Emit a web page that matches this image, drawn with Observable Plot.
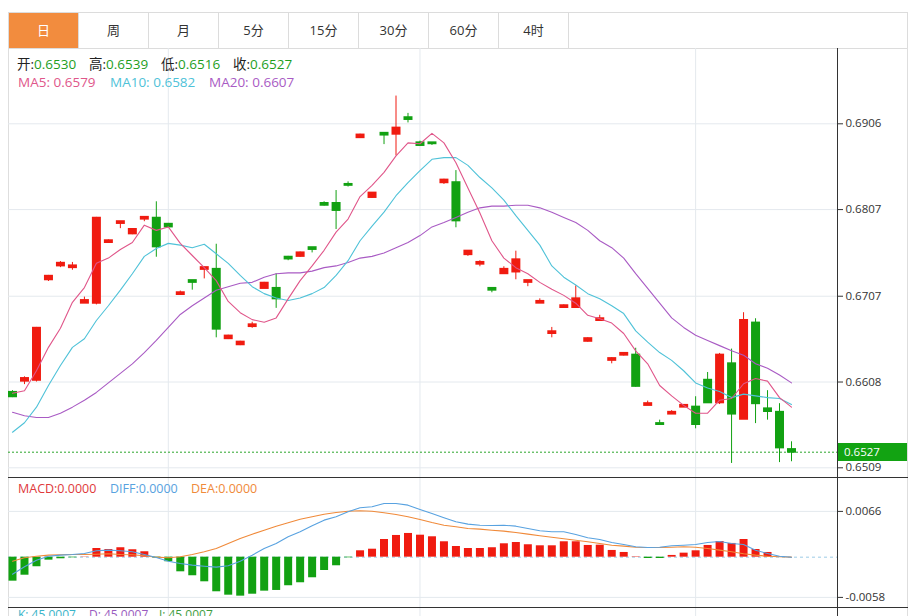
<!DOCTYPE html>
<html lang="zh"><head><meta charset="utf-8">
<script src="https://cdn.jsdelivr.net/npm/d3@7"></script>
<script src="https://cdn.jsdelivr.net/npm/@observablehq/plot@0.6"></script>
<style>
html,body{margin:0;padding:0;background:#fff;}
body{width:919px;height:616px;overflow:hidden;font-family:"Open Sans","Noto Sans CJK SC",sans-serif;color:#333;}
#root{position:relative;width:919px;height:616px;overflow:hidden;}
.a{position:absolute;white-space:nowrap;}
</style></head><body><div id="root"></div><script>
// ---------- data ----------
const tabs = ["日","周","月","5分","15分","30分","60分","4时"];
const opens = [0.6596,0.6609,0.6610,0.6726,0.6742,0.6740,0.6699,0.6699,0.6769,0.6791,
0.6779,0.6796,0.6797,0.6790,0.6709,0.6725,0.6738,0.6738,0.6658,0.6651,
0.6672,0.6716,0.6716,0.6752,0.6753,0.6763,0.6814,0.6814,0.6836,0.6890,
0.6821,0.6895,0.6894,0.6913,0.6884,0.6884,0.6838,0.6838,0.6755,0.6744,
0.6716,0.6733,0.6735,0.6723,0.6699,0.6664,0.6694,0.6694,0.6655,0.6679,
0.6633,0.6639,0.6639,0.6581,0.6560,0.6571,0.6579,0.6579,0.6610,0.6584,
0.6629,0.6565,0.6676,0.6577,0.6573,0.6530];
const closes = [0.6591,0.6612,0.6670,0.6730,0.6745,0.6742,0.6702,0.6797,0.6771,0.6793,
0.6784,0.6798,0.6764,0.6787,0.6711,0.6723,0.6740,0.6669,0.6661,0.6654,
0.6674,0.6722,0.6704,0.6750,0.6757,0.6761,0.6812,0.6806,0.6835,0.6893,
0.6826,0.6893,0.6901,0.6911,0.6881,0.6883,0.6841,0.6794,0.6759,0.6746,
0.6714,0.6738,0.6749,0.6725,0.6701,0.6666,0.6696,0.6704,0.6658,0.6681,
0.6635,0.6641,0.6603,0.6583,0.6559,0.6573,0.6581,0.6559,0.6584,0.6639,
0.6571,0.6679,0.6583,0.6574,0.6532,0.6527];
const highs = [0.6598,0.6614,0.6671,0.6731,0.6747,0.6746,0.6706,0.6798,0.6772,0.6793,
0.6785,0.6799,0.6816,0.6791,0.6713,0.6725,0.6740,0.6767,0.6662,0.6655,
0.6677,0.6723,0.6733,0.6753,0.6758,0.6763,0.6816,0.6829,0.6839,0.6894,
0.6826,0.6895,0.6938,0.6918,0.6886,0.6884,0.6842,0.6852,0.6759,0.6748,
0.6717,0.6741,0.6759,0.6725,0.6704,0.6671,0.6697,0.6719,0.6659,0.6685,
0.6636,0.6642,0.6647,0.6586,0.6564,0.6575,0.6582,0.6591,0.6619,0.6641,
0.6646,0.6688,0.6681,0.6598,0.6583,0.6539];
const lows = [0.6590,0.6605,0.6608,0.6724,0.6740,0.6737,0.6699,0.6697,0.6768,0.6785,
0.6778,0.6793,0.6752,0.6786,0.6708,0.6714,0.6727,0.6659,0.6657,0.6650,
0.6670,0.6716,0.6693,0.6748,0.6752,0.6757,0.6811,0.6784,0.6833,0.6889,
0.6820,0.6882,0.6869,0.6907,0.6880,0.6881,0.6836,0.6786,0.6753,0.6741,
0.6711,0.6733,0.6726,0.6718,0.6699,0.6659,0.6693,0.6694,0.6654,0.6679,
0.6629,0.6638,0.6602,0.6581,0.6558,0.6571,0.6579,0.6554,0.6584,0.6582,
0.6514,0.6565,0.6560,0.6564,0.6515,0.6516];
const ma5 = [0.6595,0.6598,0.6621,0.6648,0.6670,0.6700,0.6717,0.6745,0.6751,0.6761,
0.6769,0.6789,0.6783,0.6787,0.6768,0.6754,0.6740,0.6725,0.6701,0.6688,
0.6680,0.6677,0.6682,0.6704,0.6725,0.6742,0.6760,0.6781,0.6796,0.6822,
0.6835,0.6850,0.6869,0.6884,0.6883,0.6895,0.6884,0.6861,0.6832,0.6803,
0.6771,0.6751,0.6740,0.6733,0.6723,0.6715,0.6708,0.6699,0.6685,0.6681,
0.6676,0.6664,0.6644,0.6629,0.6604,0.6592,0.6581,0.6572,0.6572,0.6587,
0.6589,0.6606,0.6612,0.6609,0.6590,0.6579];
const ma10 = [0.6550,0.6561,0.6579,0.6604,0.6627,0.6648,0.6658,0.6679,0.6696,0.6714,
0.6733,0.6753,0.6762,0.6768,0.6766,0.6763,0.6767,0.6756,0.6745,0.6731,
0.6718,0.6710,0.6705,0.6702,0.6705,0.6710,0.6717,0.6731,0.6748,0.6771,
0.6788,0.6804,0.6823,0.6838,0.6852,0.6865,0.6867,0.6867,0.6858,0.6844,
0.6832,0.6818,0.6800,0.6783,0.6766,0.6742,0.6729,0.6720,0.6710,0.6704,
0.6696,0.6687,0.6667,0.6654,0.6642,0.6633,0.6621,0.6607,0.6601,0.6597,
0.6590,0.6594,0.6592,0.6590,0.6589,0.6582];
const ma20 = [0.6573,0.6569,0.6567,0.6567,0.6572,0.6579,0.6587,0.6596,0.6607,0.6618,
0.6629,0.6642,0.6656,0.6671,0.6686,0.6696,0.6705,0.6714,0.6718,0.6722,
0.6723,0.6729,0.6733,0.6734,0.6734,0.6736,0.6740,0.6742,0.6746,0.6751,
0.6753,0.6757,0.6763,0.6769,0.6777,0.6787,0.6792,0.6798,0.6804,0.6809,
0.6811,0.6811,0.6812,0.6812,0.6809,0.6804,0.6798,0.6792,0.6783,0.6771,
0.6763,0.6751,0.6733,0.6716,0.6699,0.6682,0.6671,0.6662,0.6656,0.6650,
0.6644,0.6639,0.6629,0.6624,0.6616,0.6607];
const macdHist = [-0.00346,-0.00260,-0.00138,-0.00043,-0.00023,-0.00009,0.00004,0.00125,0.00111,0.00136,
0.00107,0.00078,-0.00012,-0.00066,-0.00211,-0.00268,-0.00355,-0.00499,-0.00548,-0.00562,
-0.00534,-0.00490,-0.00480,-0.00412,-0.00369,-0.00297,-0.00192,-0.00124,-0.00009,0.00092,
0.00115,0.00255,0.00313,0.00342,0.00317,0.00294,0.00222,0.00154,0.00125,0.00125,
0.00136,0.00193,0.00212,0.00179,0.00164,0.00164,0.00222,0.00222,0.00169,0.00173,
0.00097,0.00068,0.00006,-0.00019,-0.00019,0.00025,0.00058,0.00092,0.00169,0.00226,
0.00198,0.00255,0.00111,0.00068,0.00003,0];
const diff = [-0.00245,-0.00138,-0.00043,0.00014,0.00029,0.00039,0.00053,0.00092,0.00101,0.00092,
0.00078,0.00039,-0.00004,-0.00058,-0.00091,-0.00115,-0.00130,-0.00144,-0.00124,-0.00058,
0.00029,0.00125,0.00198,0.00294,0.00366,0.00453,0.00534,0.00583,0.00655,0.00712,
0.00727,0.00774,0.00774,0.00750,0.00688,0.00630,0.00568,0.00510,0.00476,0.00461,
0.00457,0.00461,0.00447,0.00414,0.00381,0.00366,0.00366,0.00327,0.00280,0.00255,
0.00212,0.00183,0.00150,0.00140,0.00144,0.00164,0.00173,0.00183,0.00212,0.00226,
0.00198,0.00183,0.00101,0.00053,0.00014,0];
const dea = [-0.00058,-0.00009,0.00014,0.00029,0.00035,0.00039,0.00039,0.00043,0.00049,0.00039,
0.00035,0.00020,0,-0.00009,0.00006,0.00039,0.00078,0.00125,0.00198,0.00270,
0.00332,0.00389,0.00447,0.00496,0.00548,0.00583,0.00620,0.00645,0.00663,0.00669,
0.00663,0.00640,0.00616,0.00583,0.00544,0.00500,0.00461,0.00438,0.00414,0.00404,
0.00389,0.00375,0.00356,0.00332,0.00309,0.00288,0.00265,0.00245,0.00222,0.00198,
0.00173,0.00159,0.00144,0.00140,0.00140,0.00144,0.00150,0.00144,0.00125,0.00101,
0.00078,0.00049,0.00029,0.00014,0.00006,0];
const priceTicks = [0.6906,0.6807,0.6707,0.6608,0.6509];
const macdTicks = [0.0066,-0.0058];
const monthStarts = [13,34,57];
const quoteLabels = ["开","高","低","收"];
const quoteValues = [0.6530,0.6539,0.6516,0.6527];
const maLabels = ["MA5","MA10","MA20"];
const maValues = [0.6579,0.6582,0.6607];
const macdLabels = ["MACD","DIFF","DEA"];
const macdValues = [0.0000,0.0000,0.0000];
const kdjLabels = ["K","D","J"];
const kdjValues = [45.0007,45.0007,45.0007];

// ---------- styling ----------
const UP = "#f01b10", DOWN = "#12a112", GRID = "#e4e9ee";
const MA_COLORS = ["#e0568a","#4fc2d8","#a95bc4"];
const MACD_COLORS = ["#e0393b","#58a2e0","#f08a3a"];
const KDJ_COLORS = ["#3ab4c9","#9a5bc0","#3f9e3f"];
const root = document.getElementById("root");
function add(style, html){const d=document.createElement("div");d.className="a";Object.assign(d.style,style);if(html!==undefined)d.innerHTML=html;root.appendChild(d);return d;}

// tab bar
const tabBar = add({left:"8px",top:"12px",width:"900px",height:"37px",border:"1px solid #dcdcdc",boxSizing:"border-box"});
tabs.forEach((t,i)=>{
  const d=document.createElement("div");
  Object.assign(d.style,{position:"absolute",left:(i*70)+"px",top:"0px",width:"70px",height:"35px",lineHeight:"35px",textAlign:"center",fontSize:"13px",borderRight:"1px solid #dcdcdc",boxSizing:"border-box",color:i===0?"#fff":"#333",background:i===0?"#f28c3e":"transparent"});
  d.textContent=t; tabBar.appendChild(d);
});

// frame lines
add({left:"8px",top:"48px",width:"1px",height:"570px",background:"#dedede"});
add({left:"907px",top:"48px",width:"1px",height:"570px",background:"#dedede"});

const candles = opens.map((o,i)=>({i,open:o,high:highs[i],low:lows[i],close:closes[i]}));
const isUp = d => d.close >= d.open;
const xOpt = {domain:[0,opens.length-1], range:[4,783], axis:null};
const baseStyle = {background:"transparent",fontFamily:'"Open Sans",sans-serif',fontSize:"11.5px",color:"#333",overflow:"visible"};
const fmt = d => d.toFixed(4);

const main = Plot.plot({
  width:900, height:429, marginTop:0, marginBottom:0, marginLeft:0, marginRight:71,
  style: baseStyle,
  x: xOpt,
  y: {domain:[0.6509,0.6906], range:[419.3,75.3], axis:null, label:null},
  marks: [
    Plot.gridY(priceTicks,{stroke:GRID,strokeOpacity:1}),
    Plot.ruleX(monthStarts,{stroke:GRID}),
    Plot.ruleY([quoteValues[3]],{stroke:"#2aa52a",strokeDasharray:"2,2"}),
    Plot.ruleX(candles,{filter:isUp,x:"i",y1:"low",y2:"high",stroke:UP,strokeWidth:1}),
    Plot.ruleX(candles,{filter:d=>!isUp(d),x:"i",y1:"low",y2:"high",stroke:DOWN,strokeWidth:1}),
    Plot.ruleX(candles,{filter:isUp,x:"i",y1:d=>Math.max(d.open,d.close),y2:d=>Math.min(d.open,d.close),stroke:UP,strokeWidth:9,insetTop:-1,insetBottom:-1}),
    Plot.ruleX(candles,{filter:d=>!isUp(d),x:"i",y1:d=>Math.max(d.open,d.close),y2:d=>Math.min(d.open,d.close),stroke:DOWN,strokeWidth:9,insetTop:-1,insetBottom:-1}),
    Plot.line(ma20,{x:(d,i)=>i,y:d=>d,stroke:MA_COLORS[2],strokeWidth:1.1}),
    Plot.line(ma10,{x:(d,i)=>i,y:d=>d,stroke:MA_COLORS[1],strokeWidth:1.1}),
    Plot.line(ma5,{x:(d,i)=>i,y:d=>d,stroke:MA_COLORS[0],strokeWidth:1.1}),
    Plot.axisY(priceTicks,{anchor:"right",tickSize:5,tickPadding:3,tickFormat:fmt,fontSize:11.5,label:null})
  ]
});
Object.assign(main.style,{position:"absolute",left:"8px",top:"48px"});
root.appendChild(main);

const histData = macdHist.map((v,i)=>({i,v}));
const macd = Plot.plot({
  width:900, height:130, marginTop:0, marginBottom:0, marginLeft:0, marginRight:71,
  style: baseStyle,
  x: xOpt,
  y: {domain:[-0.0058,0.0066], range:[119.9,33.9], axis:null, label:null},
  marks: [
    Plot.gridY(macdTicks,{stroke:GRID,strokeOpacity:1}),
    Plot.ruleX(monthStarts,{stroke:GRID}),
    Plot.ruleY([0],{stroke:"#9ccbe6",strokeDasharray:"3,3"}),
    Plot.ruleX(histData,{filter:d=>d.v>=0,x:"i",y1:0,y2:"v",stroke:UP,strokeWidth:8}),
    Plot.ruleX(histData,{filter:d=>d.v<0,x:"i",y1:0,y2:"v",stroke:DOWN,strokeWidth:8}),
    Plot.line(dea,{x:(d,i)=>i,y:d=>d,stroke:MACD_COLORS[2],strokeWidth:1.1}),
    Plot.line(diff,{x:(d,i)=>i,y:d=>d,stroke:MACD_COLORS[1],strokeWidth:1.1}),
    Plot.axisY(macdTicks,{anchor:"right",tickSize:5,tickPadding:3,tickFormat:fmt,fontSize:11.5,label:null})
  ]
});
Object.assign(macd.style,{position:"absolute",left:"8px",top:"477px"});
root.appendChild(macd);

const kdj = Plot.plot({
  width:900, height:20, marginTop:0, marginBottom:0, marginLeft:0, marginRight:71,
  style: baseStyle, x: xOpt, y:{domain:[0,1],axis:null},
  marks:[Plot.ruleX(monthStarts,{stroke:GRID})]
});
Object.assign(kdj.style,{position:"absolute",left:"8px",top:"607px"});
root.appendChild(kdj);

// separators and axis line
add({left:"8px",top:"477px",width:"900px",height:"1px",background:"#333"});
add({left:"8px",top:"607px",width:"900px",height:"1px",background:"#333"});
add({left:"837px",top:"48px",width:"1px",height:"570px",background:"#333"});

// last price label
const py = 48 + main.scale("y").apply(quoteValues[3]);
add({left:"838px",top:(py-9)+"px",width:"69px",height:"18px",lineHeight:"18px",background:"#12a312",color:"#fff",fontSize:"11.5px",paddingLeft:"6px",boxSizing:"border-box"}, fmt(quoteValues[3]));

// legends
const qx=[17,89,161,233];
quoteLabels.forEach((l,i)=>add({left:qx[i]+"px",top:"55px",lineHeight:"18px",fontSize:"13.5px",color:"#222"},
  l+':<span style="color:#1e9e1e">'+fmt(quoteValues[i])+'</span>'));
const mx=[18,110,209];
maLabels.forEach((l,i)=>add({left:mx[i]+"px",top:"73px",lineHeight:"18px",fontSize:"13.5px",color:MA_COLORS[i]}, l+": "+fmt(maValues[i])));
const cx=[18,110,191];
macdLabels.forEach((l,i)=>add({left:cx[i]+"px",top:"480px",lineHeight:"18px",fontSize:"12.5px",color:MACD_COLORS[i]}, l+":"+fmt(macdValues[i])));
const kx=[18,89,159];
kdjLabels.forEach((l,i)=>add({left:kx[i]+"px",top:"607px",lineHeight:"16px",fontSize:"12px",color:KDJ_COLORS[i]}, l+": "+fmt(kdjValues[i])));
</script></body></html>
